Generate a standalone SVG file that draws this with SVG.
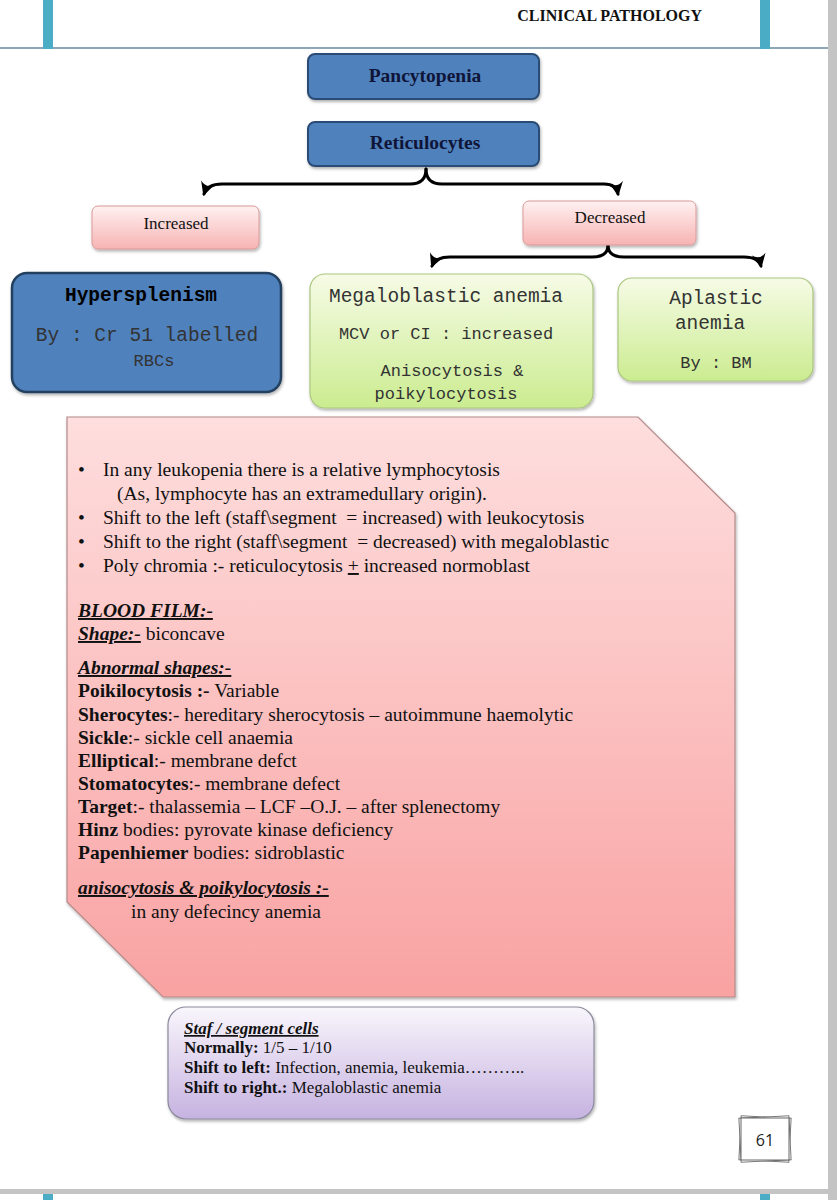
<svg xmlns="http://www.w3.org/2000/svg" width="837" height="1200" viewBox="0 0 837 1200">
<defs>
<style>
.serif{font-family:"Liberation Serif","Times New Roman",serif;fill:#111}
.mono{font-family:"Liberation Mono","Courier New",monospace;fill:#333}
.b{font-weight:bold}
.bi{font-weight:bold;font-style:italic;text-decoration:underline}
.conn{fill:none;stroke:#000;stroke-width:3;stroke-linecap:round}
</style>
<linearGradient id="gPink" x1="0" y1="0" x2="0" y2="1"><stop offset="0" stop-color="#fff1f1"/><stop offset="1" stop-color="#f7b3b3"/></linearGradient>
<linearGradient id="gGreen" x1="0" y1="0" x2="0" y2="1"><stop offset="0" stop-color="#f6fbe6"/><stop offset="1" stop-color="#cbec90"/></linearGradient>
<linearGradient id="gBig" x1="0" y1="0" x2="0" y2="1"><stop offset="0" stop-color="#fedede"/><stop offset="1" stop-color="#f9a2a2"/></linearGradient>
<linearGradient id="gPurple" x1="0" y1="0" x2="0" y2="1"><stop offset="0" stop-color="#f9f6fc"/><stop offset="1" stop-color="#c6b2e0"/></linearGradient>
<filter id="sh" x="-10%" y="-10%" width="120%" height="130%"><feDropShadow dx="1" dy="2" stdDeviation="1.5" flood-color="#000" flood-opacity="0.3"/></filter>
<marker id="ah" markerUnits="userSpaceOnUse" markerWidth="20" markerHeight="20" viewBox="-14 -10 20 20" refX="0" refY="0" orient="auto">
<path d="M2,0 L-12,-7 Q-6,0 -12,7 Z" fill="#000"/>
</marker>
</defs>
<rect width="837" height="1200" fill="#fff"/>
<g id="page">
<rect x="828" y="0" width="9" height="1200" fill="#c4c4c4"/>
<rect x="0" y="47" width="828" height="2" fill="#8ea6b6"/>
<rect x="43" y="0" width="10" height="49" fill="#4bacc6"/>
<rect x="760" y="0" width="10" height="49" fill="#4bacc6"/>
<rect x="0" y="1189" width="837" height="5" fill="#c4c4c4"/>
<rect x="43" y="1194" width="10" height="6" fill="#4bacc6"/>
<rect x="760" y="1194" width="10" height="6" fill="#4bacc6"/>
<text x="702" y="21" class="serif b" font-size="16" text-anchor="end">CLINICAL PATHOLOGY</text>
</g>
<g id="connectors">
<path class="conn" d="M426,169 C426,180 420,184 410,184 L222,184 C212,184 206,188 204,194" marker-end="url(#ah)"/>
<path class="conn" d="M426,169 C426,180 432,184 442,184 L604,184 C613,184 617,188 618,194" marker-end="url(#ah)"/>
<path class="conn" d="M608,245 C608,253 602,257 592,257 L450,257 C440,257 434,261 432,266" marker-end="url(#ah)"/>
<path class="conn" d="M608,245 C608,253 614,257 624,257 L744,257 C754,257 760,261 761,266" marker-end="url(#ah)"/>
</g>
<g id="pancytopenia">
<rect x="308" y="54" width="231" height="45" rx="7" fill="#4f81bd" stroke="#2c4c74" stroke-width="2" filter="url(#sh)"/>
<text x="425" y="82" class="serif b" font-size="19.5" text-anchor="middle" style="fill:#0f1538">Pancytopenia</text>
</g>
<g id="reticulocytes">
<rect x="308" y="122" width="231" height="44" rx="7" fill="#4f81bd" stroke="#2c4c74" stroke-width="2" filter="url(#sh)"/>
<text x="425" y="149" class="serif b" font-size="19.5" text-anchor="middle" style="fill:#0f1538">Reticulocytes</text>
</g>
<g id="increased">
<rect x="92" y="206" width="167" height="43" rx="6" fill="url(#gPink)" stroke="#d89a98" stroke-width="1" filter="url(#sh)"/>
<text x="176" y="229" class="serif" font-size="17" text-anchor="middle">Increased</text>
</g>
<g id="decreased">
<rect x="523" y="201" width="173" height="44" rx="6" fill="url(#gPink)" stroke="#d89a98" stroke-width="1" filter="url(#sh)"/>
<text x="610" y="223" class="serif" font-size="17" text-anchor="middle">Decreased</text>
</g>
<g id="hypersplenism">
<rect x="12" y="273" width="269" height="119" rx="15" fill="#4f81bd" stroke="#24405f" stroke-width="2.5" filter="url(#sh)"/>
<text x="141" y="301" class="mono b" font-size="19.5" text-anchor="middle" style="fill:#000">Hypersplenism</text>
<text x="147" y="341" class="mono" font-size="19.5" text-anchor="middle">By : Cr 51 labelled</text>
<text x="154" y="366" class="mono" font-size="17" text-anchor="middle">RBCs</text>
</g>
<g id="megaloblastic">
<rect x="310" y="274" width="283" height="134" rx="15" fill="url(#gGreen)" stroke="#abc680" stroke-width="1.2" filter="url(#sh)"/>
<text x="446" y="302" class="mono" font-size="19.5" text-anchor="middle">Megaloblastic anemia</text>
<text x="446" y="339" class="mono" font-size="17" text-anchor="middle">MCV or CI : increased</text>
<text x="452" y="376" class="mono" font-size="17" text-anchor="middle">Anisocytosis &amp;</text>
<text x="446" y="399" class="mono" font-size="17" text-anchor="middle">poikylocytosis</text>
</g>
<g id="aplastic">
<rect x="618" y="278" width="195" height="103" rx="14" fill="url(#gGreen)" stroke="#abc680" stroke-width="1.2" filter="url(#sh)"/>
<text x="716" y="304" class="mono" font-size="19.5" text-anchor="middle">Aplastic</text>
<text x="710" y="329" class="mono" font-size="19.5" text-anchor="middle">anemia</text>
<text x="716" y="368" class="mono" font-size="17" text-anchor="middle">By : BM</text>
</g>
<g id="notes">
<path d="M67,417 L638,417 L735,513 L735,997 L163,997 L67,902 Z" fill="url(#gBig)" stroke="#b48a8a" stroke-width="1.2" filter="url(#sh)"/>
<g class="serif" font-size="19.5">
<text x="78" y="476">•</text><text x="103" y="476">In any leukopenia there is a relative lymphocytosis</text>
<text x="117" y="500">(As, lymphocyte has an extramedullary origin).</text>
<text x="78" y="524">•</text><text x="103" y="524" xml:space="preserve">Shift to the left (staff\segment  = increased) with leukocytosis</text>
<text x="78" y="548">•</text><text x="103" y="548" xml:space="preserve">Shift to the right (staff\segment  = decreased) with megaloblastic</text>
<text x="78" y="572">•</text><text x="103" y="572">Poly chromia :- reticulocytosis <tspan text-decoration="underline">+</tspan> increased normoblast</text>
<text x="78" y="617" class="bi">BLOOD FILM:-</text>
<text x="78" y="640"><tspan class="bi">Shape:-</tspan> biconcave</text>
<text x="78" y="674" class="bi">Abnormal shapes:-</text>
<text x="78" y="697"><tspan class="b">Poikilocytosis :-</tspan> Variable</text>
<text x="78" y="721"><tspan class="b">Sherocytes</tspan>:- hereditary sherocytosis – autoimmune haemolytic</text>
<text x="78" y="744"><tspan class="b">Sickle</tspan>:- sickle cell anaemia</text>
<text x="78" y="767"><tspan class="b">Elliptical</tspan>:- membrane defct</text>
<text x="78" y="790"><tspan class="b">Stomatocytes</tspan>:- membrane defect</text>
<text x="78" y="813"><tspan class="b">Target</tspan>:- thalassemia – LCF –O.J. – after splenectomy</text>
<text x="78" y="836"><tspan class="b">Hinz</tspan> bodies: pyrovate kinase deficiency</text>
<text x="78" y="859"><tspan class="b">Papenhiemer</tspan> bodies: sidroblastic</text>
<text x="78" y="894" class="bi">anisocytosis &amp; poikylocytosis :-</text>
<text x="131" y="918">in any defecincy anemia</text>
</g>
</g>
<g id="staf">
<rect x="168" y="1007" width="426" height="112" rx="18" fill="url(#gPurple)" stroke="#8a8a9c" stroke-width="1.2" filter="url(#sh)"/>
<g class="serif" font-size="17">
<text x="184" y="1034" class="bi">Staf / segment cells</text>
<text x="184" y="1053"><tspan class="b">Normally:</tspan> 1/5 – 1/10</text>
<text x="184" y="1073"><tspan class="b">Shift to left:</tspan> Infection, anemia, leukemia………..</text>
<text x="184" y="1093"><tspan class="b">Shift to right.:</tspan> Megaloblastic anemia</text>
</g>
</g>
<g id="pagenum">
<rect x="740" y="1117" width="50" height="44" fill="#fff" stroke="#777" stroke-width="1" transform="rotate(3 765 1139)"/>
<rect x="740" y="1117" width="50" height="44" fill="#fff" stroke="#777" stroke-width="1" transform="rotate(-3 765 1139)"/>
<rect x="741" y="1118" width="48" height="42" fill="#fff" stroke="#666" stroke-width="1"/>
<text x="765" y="1146" font-family="'Open Sans','Liberation Sans',sans-serif" font-size="16" text-anchor="middle" fill="#222">61</text>
</g>
</svg>
